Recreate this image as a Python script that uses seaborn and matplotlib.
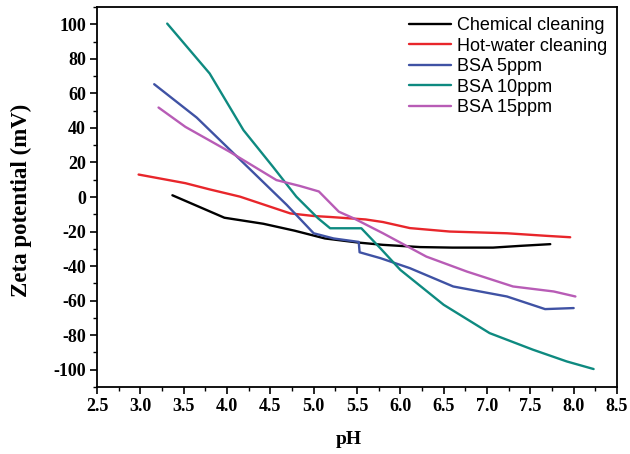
import matplotlib
matplotlib.use("Agg")
import matplotlib.pyplot as plt
import seaborn as sns
import pandas as pd
from matplotlib.ticker import MultipleLocator

series_names = ["Chemical cleaning", "Hot-water cleaning", "BSA 5ppm", "BSA 10ppm", "BSA 15ppm"]

chem_ph = [3.37, 3.97, 4.42, 4.78, 5.13, 5.52, 5.8, 6.23, 6.6, 7.07, 7.38, 7.73]
chem_zeta = [1, -12, -15.5, -19.5, -24, -26.4, -27.7, -29, -29.3, -29.3, -28.3, -27.3]

hot_ph = [2.98, 3.52, 3.80, 4.15, 4.73, 5.0, 5.2, 5.6, 5.8, 6.11, 6.57, 7.23, 7.69, 7.96]
hot_zeta = [13, 8, 4.4, 0.2, -9.5, -11, -11.6, -13, -14.5, -18, -20, -21, -22.5, -23.3]

bsa5_ph = [3.16, 3.65, 4.69, 5.0, 5.23, 5.52, 5.53, 5.77, 6.11, 6.61, 7.23, 7.67, 8.0]
bsa5_zeta = [65.3, 46, -4.6, -21, -24, -26, -32, -35.4, -41.2, -51.8, -57.6, -64.9, -64.3]

bsa10_ph = [3.31, 3.80, 4.19, 4.53, 4.80, 5.05, 5.19, 5.55, 5.77, 6.0, 6.5, 7.03, 7.53, 7.92, 8.23]
bsa10_zeta = [100.4, 71.5, 38.7, 17.5, 0.2, -12.3, -18.1, -18.1, -29.7, -42.2, -62.4, -78.8, -88.4, -95.2, -99.6]

bsa15_ph = [3.21, 3.52, 4.03, 4.57, 4.84, 5.06, 5.29, 5.46, 5.8, 6.3, 6.77, 7.30, 7.77, 8.02]
bsa15_zeta = [51.8, 40.6, 26.2, 9.8, 6.4, 3.2, -8.5, -12.3, -21, -34.5, -43.2, -51.8, -54.7, -57.6]

x_ticks = [2.5, 3.0, 3.5, 4.0, 4.5, 5.0, 5.5, 6.0, 6.5, 7.0, 7.5, 8.0, 8.5]
y_ticks = [-100, -80, -60, -40, -20, 0, 20, 40, 60, 80, 100]

colors = ["#000000", "#e8262b", "#3f52a4", "#0e8a80", "#b85cb6"]

all_ph = [chem_ph, hot_ph, bsa5_ph, bsa10_ph, bsa15_ph]
all_zeta = [chem_zeta, hot_zeta, bsa5_zeta, bsa10_zeta, bsa15_zeta]
frames = []
for name, ph, z in zip(series_names, all_ph, all_zeta):
    frames.append(pd.DataFrame({"pH": ph, "zeta": z, "series": name}))
df = pd.concat(frames, ignore_index=True)

sns.set_theme(style="ticks")
plt.rcParams["font.family"] = ["Liberation Serif", "DejaVu Serif"]
plt.rcParams["text.color"] = "black"
plt.rcParams["axes.labelcolor"] = "black"

fig = plt.figure(figsize=(6.3, 4.54), dpi=100)
ax = fig.add_axes([97 / 630, 1 - 387 / 454, (617 - 97) / 630, (387 - 7) / 454])

sns.lineplot(data=df, x="pH", y="zeta", hue="series", hue_order=series_names,
             palette=colors, sort=False, estimator=None, units="series",
             linewidth=1.7, ax=ax)

ax.set_xlim(2.5, 8.5)
ax.set_ylim(-110, 110)
ax.set_xticks(x_ticks)
ax.set_xticklabels([f"{v:.1f}" for v in x_ticks])
ax.set_yticks(y_ticks)
ax.set_yticklabels([str(v) for v in y_ticks])
ax.xaxis.set_minor_locator(MultipleLocator(0.25))
ax.yaxis.set_minor_locator(MultipleLocator(10))
ax.tick_params(axis="both", which="major", direction="out", length=5, width=1.2,
               labelsize=13, pad=3, top=False, right=False, colors="black")
ax.tick_params(axis="both", which="minor", direction="out", length=3, width=1.0,
               top=False, right=False, colors="black")
for lbl in ax.get_xticklabels() + ax.get_yticklabels():
    lbl.set_fontweight("bold")
for sp in ax.spines.values():
    sp.set_visible(True)
    sp.set_linewidth(1.3)
    sp.set_color("black")

ax.set_xlabel("pH", fontsize=14, fontweight="bold", color="black")
ax.set_ylabel("Zeta potential (mV)", fontsize=16.5, fontweight="bold", color="black")
ax.xaxis.label.set_va("center")
ax.yaxis.label.set_va("center")
ax.xaxis.set_label_coords((349 - 97) / 520, -(440 - 387) / 380)
ax.yaxis.set_label_coords(-(97 - 21) / 520, (387 - 200) / 380)

leg = ax.legend(loc="upper right", frameon=False, handlelength=2.35,
                handletextpad=0.3, labelspacing=0.2, borderaxespad=0.15,
                prop={"family": ["Liberation Sans", "DejaVu Sans"], "size": 13})
for h in leg.get_lines():
    h.set_linewidth(1.7)
for t in leg.get_texts():
    t.set_color("black")

fig.savefig("out.png", dpi=100)
